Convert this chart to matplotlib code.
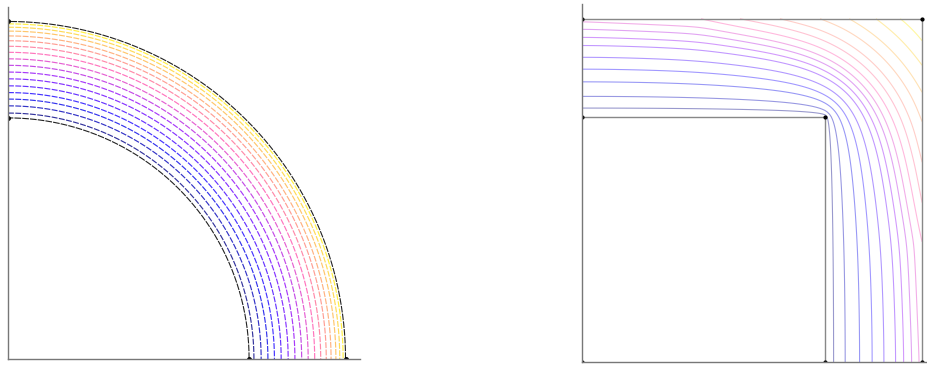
import numpy as np
import matplotlib
matplotlib.use("Agg")
import matplotlib.pyplot as plt

# contour levels, left panel (radius of each arc, inner r=1, outer r=1.4)
left_levels = [1.02, 1.05, 1.078, 1.105, 1.133, 1.162, 1.19, 1.218,
               1.245, 1.272, 1.297, 1.32, 1.34, 1.36, 1.376, 1.39]

# contour levels, right panel
right_levels = [0.050, 0.117, 0.200, 0.272, 0.339, 0.405, 0.450, 0.494,
                0.534, 0.58, 0.63, 0.68, 0.74, 0.80, 0.87, 0.94]

# value along the outer top / right edge of the square
edge_pos = [0.0, 0.49, 0.65, 0.815, 0.98, 1.10, 1.21, 1.31, 1.40]
edge_val = [0.55, 0.58, 0.63, 0.68, 0.74, 0.80, 0.87, 0.94, 1.00]

r_in, r_out = 1.0, 1.4
cols = plt.cm.gnuplot2(np.linspace(0.13, 0.88, len(left_levels)))

fig = plt.figure(figsize=(9.27, 3.65), dpi=100)

# ---------- left: quarter annulus ----------
ax1 = fig.add_axes([8 / 927, 6 / 365, 352 / 927, 352 / 365])
r = np.linspace(r_in, r_out, 80)
th = np.linspace(0, np.pi / 2, 300)
R, T = np.meshgrid(r, th)
ax1.contour(R * np.cos(T), R * np.sin(T), R, levels=left_levels,
            colors=cols, linewidths=0.85, linestyles=[(0, (5, 1.2))],
            alpha=0.8)
for rr in (r_in, r_out):
    ax1.plot(rr * np.cos(th), rr * np.sin(th), color="#222222", lw=0.8,
             ls=(0, (6, 1)))
ax1.plot([0, 0, 1, 1.4], [1, 1.4, 0, 0], "o", color="black", ms=2.5)
ax1.set_xlim(0, 1.46)
ax1.set_ylim(0, 1.46)

# ---------- right: square with square hole ----------
ax2 = fig.add_axes([582 / 927, 3 / 365, 345 / 927, 358 / 365])
n = 141
x = np.linspace(0, r_out, n)
X, Y = np.meshgrid(x, x)
eps = 1e-9
hole = (X < r_in - eps) & (Y < r_in - eps)
inner = (X <= r_in + eps) & (Y <= r_in + eps) & ~hole
top = np.isclose(Y, r_out)
right = np.isclose(X, r_out)
gx = np.interp(X, edge_pos, edge_val)
gy = np.interp(Y, edge_pos, edge_val)
bc = np.where(top, gx, np.where(right, gy, 0.0))
fixed = inner | top | right | hole
free = ~fixed

# start from a linear profile, then Jacobi iterations (Neumann on x=0, y=0)
U = np.interp(np.maximum(X, Y), [r_in, r_out], [0, 1]) * np.maximum(gx, gy)
U[fixed] = bc[fixed]
U[hole] = 0.0
for _ in range(9000):
    P = np.pad(U, 1, mode="reflect")
    Un = 0.25 * (P[:-2, 1:-1] + P[2:, 1:-1] + P[1:-1, :-2] + P[1:-1, 2:])
    U = np.where(free, Un, U)

Z = np.ma.masked_where(hole, U)
ax2.contour(X, Y, Z, levels=right_levels, colors=cols, linewidths=0.8,
            alpha=0.4)
ax2.plot([0, r_out, r_out], [r_out, r_out, 0], color="#888888", lw=1)
ax2.plot([0, r_in, r_in], [r_in, r_in, 0], color="#888888", lw=1)
ax2.plot([0, r_out, 0, r_in, r_in, 0, r_out], [r_out, r_out, r_in, r_in, 0, 0, 0],
         "o", color="black", ms=2)
ax2.set_xlim(0, 1.42)
ax2.set_ylim(0, 1.46)

for ax in (ax1, ax2):
    ax.set_xticks([])
    ax.set_yticks([])
    ax.spines["top"].set_visible(False)
    ax.spines["right"].set_visible(False)
    for s in ("left", "bottom"):
        ax.spines[s].set_color("#777777")
        ax.spines[s].set_linewidth(1)
    ax.patch.set_alpha(0)

fig.savefig("out.png", dpi=100)
